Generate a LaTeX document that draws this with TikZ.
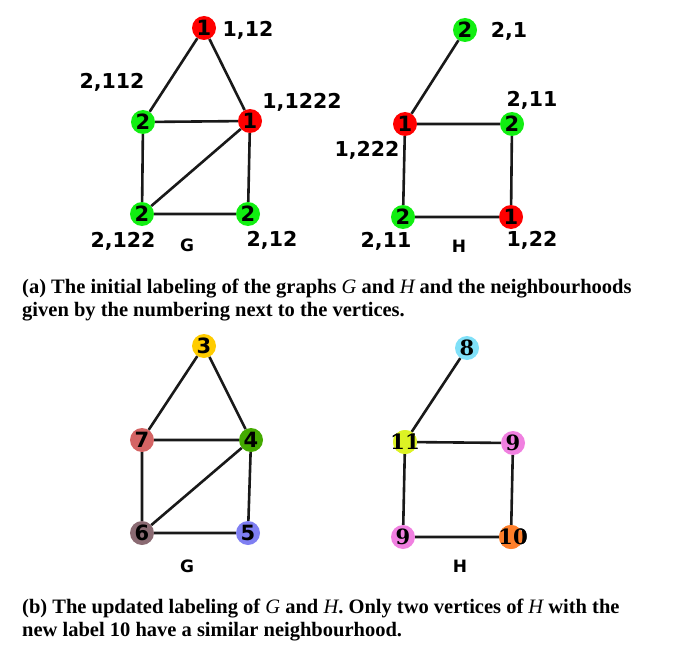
\documentclass[tikz,border=0pt]{standalone}
\usepackage{fontspec}
\setmainfont{Liberation Serif}
\newfontfamily\lblfont{DejaVu Sans}
\newfontfamily\serifnum{DejaVu Serif}
\definecolor{vred}{HTML}{FF0000}
\definecolor{vgreen}{HTML}{11EE11}
\definecolor{cgold}{HTML}{FFCC00}
\definecolor{cindian}{HTML}{D46464}
\definecolor{cleaf}{HTML}{44AA00}
\definecolor{cmauve}{HTML}{8A6A72}
\definecolor{cblue}{HTML}{7F7FF2}
\definecolor{ccyan}{HTML}{80E0F8}
\definecolor{clime}{HTML}{DDF224}
\definecolor{cpink}{HTML}{F080E0}
\definecolor{corange}{HTML}{FF7F2A}
\newcommand{\nb}[1]{\makebox[0pt][c]{#1}}
\tikzset{
  vtx/.style={circle,minimum size=24pt,inner sep=0pt,font=\lblfont\bfseries\fontsize{21}{21}\selectfont},
  svtx/.style={vtx,font=\serifnum\bfseries\fontsize{21}{21}\selectfont},
  lbl/.style={font=\lblfont\bfseries\fontsize{20.5}{20.5}\selectfont,inner sep=0pt},
  glbl/.style={font=\lblfont\bfseries\fontsize{17}{17}\selectfont,inner sep=0pt},
  lnk/.style={line width=2.6pt,black!90},
  captext/.style={anchor=base west,inner sep=0pt,font=\bfseries\fontsize{20.5}{23}\selectfont}
}
\begin{document}
\begin{tikzpicture}[x=1pt,y=-1pt]
\useasboundingbox (0,0) rectangle (677,650);
% ---- top G
\node[vtx,fill=vred] (ga) at (204,28) {1};
\node[vtx,fill=vgreen] (gb) at (143,122) {2};
\node[vtx,fill=vred] (gc) at (250,121) {1};
\node[vtx,fill=vgreen] (gd) at (142,214) {2};
\node[vtx,fill=vgreen] (ge) at (248,214) {2};
\draw[lnk] (ga) -- (gb) (ga) -- (gc) (gb) -- (gc) (gb) -- (gd) (gc) -- (gd) (gc) -- (ge) (gd) -- (ge);
\node[lbl] (la) at (248,30) {1,12};
\node[lbl] (lb) at (112,82) {2,112};
\node[lbl] (lc) at (302,102) {1,1222};
\node[lbl] (ld) at (123,241) {2,122};
\node[lbl] (le) at (272,240) {2,12};
\node[glbl] (gG) at (187,245) {G};
% ---- top H
\node[vtx,fill=vgreen] (ha) at (465,30) {2};
\node[vtx,fill=vred] (hb) at (405,124) {1};
\node[vtx,fill=vgreen] (hc) at (512,124) {2};
\node[vtx,fill=vgreen] (hd) at (403,217) {2};
\node[vtx,fill=vred] (he) at (511,217) {1};
\draw[lnk] (ha) -- (hb) (hb) -- (hc) (hb) -- (hd) (hc) -- (he) (hd) -- (he);
\node[lbl] (ma) at (509,31) {2,1};
\node[lbl] (mc) at (532,100) {2,11};
\node[lbl] (mb) at (367,150) {1,222};
\node[lbl] (md) at (386,241) {2,11};
\node[lbl] (me) at (532,240) {1,22};
\node[glbl] (hH) at (459,246) {H};
% ---- caption a
\node[captext] (capa1) at (22,293) {(a) The initial labeling of the graphs {\mdseries\itshape G} and {\mdseries\itshape H} and the neighbourhoods};
\node[captext] (capa2) at (22,316) {given by the numbering next to the vertices.};
% ---- bottom G
\node[vtx,fill=cgold] (pa) at (204,346) {3};
\node[vtx,fill=cindian] (pb) at (142,440) {7};
\node[vtx,fill=cleaf] (pc) at (251,440) {4};
\node[vtx,fill=cmauve] (pd) at (142,533) {6};
\node[vtx,fill=cblue] (pe) at (248,533) {5};
\draw[lnk] (pa) -- (pb) (pa) -- (pc) (pb) -- (pc) (pb) -- (pd) (pc) -- (pd) (pc) -- (pe) (pd) -- (pe);
\node[glbl] (pG) at (187,566) {G};
% ---- bottom H
\node[svtx,fill=ccyan] (qa) at (467,348) {\nb{8}};
\node[svtx,fill=clime] (qb) at (405,442) {\nb{11}};
\node[svtx,fill=cpink] (qc) at (513,443) {\nb{9}};
\node[svtx,fill=cpink] (qd) at (403,537) {\nb{9}};
\node[svtx,fill=corange] (qe) at (511,537) {\nb{\hspace{4pt}10}};
\draw[lnk] (qa) -- (qb) (qb) -- (qc) (qb) -- (qd) (qc) -- (qe) (qd) -- (qe);
\node[svtx,fill=clime] at (qb) {\nb{11}};
\node[svtx,fill=corange] at (qe) {\nb{\hspace{4pt}10}};
\node[glbl] (qH) at (460,566) {H};
% ---- caption b
\node[captext] (capb1) at (22,613) {(b) The updated labeling of {\mdseries\itshape G} and {\mdseries\itshape H}. Only two vertices of {\mdseries\itshape H} with the};
\node[captext] (capb2) at (22,636) {new label 10 have a similar neighbourhood.};
\end{tikzpicture}
\end{document}
